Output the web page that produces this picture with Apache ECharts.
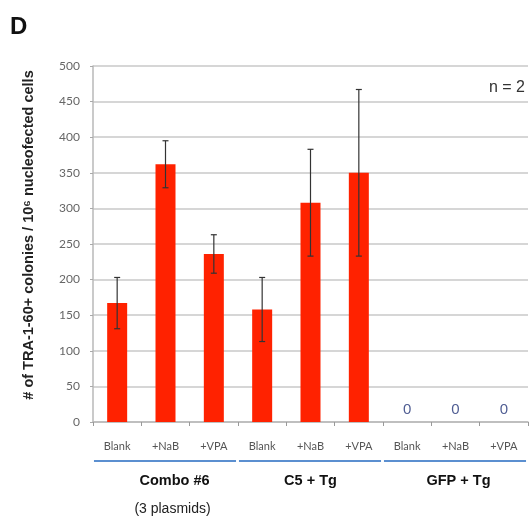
<!DOCTYPE html>
<html><head><meta charset="utf-8">
<script src="https://cdn.jsdelivr.net/npm/echarts@6/dist/echarts.min.js"></script>
<style>html,body{margin:0;padding:0;background:#fff}#c{width:529px;height:520px}</style>
</head><body><div id="c"></div>
<script>
const categories = ['Blank','+NaB','+VPA','Blank','+NaB','+VPA','Blank','+NaB','+VPA'];
const values = [167, 362, 236, 158, 308, 350, 0, 0, 0];
const errors = [36, 33, 27, 45, 75, 117, 0, 0, 0];
const groups = ['Combo #6', 'C5 + Tg', 'GFP + Tg'];
const groupSub = ['(3 plasmids)', '', ''];
const yTicks = [0, 50, 100, 150, 200, 250, 300, 350, 400, 450, 500];

const chart = echarts.init(document.getElementById('c'), null, {renderer: 'canvas'});
const errData = values.map((v, i) => [i, v - errors[i], v + errors[i]]).filter((d, i) => errors[i] > 0);
const zeroLabels = values.map((v, i) => v === 0 ? [i, v] : null).filter(Boolean);

const option = {
  animation: false,
  grid: {left: 93, right: 1, top: 66, bottom: 98},
  xAxis: {
    type: 'category', data: categories,
    axisLine: {lineStyle: {color: '#b8b8b8', width: 1.5}},
    axisTick: {show: true, length: 4, lineStyle: {color: '#999'}},
    axisLabel: {color: '#555', fontSize: 11, fontFamily: 'Lato', margin: 19}
  },
  yAxis: {
    type: 'value', min: yTicks[0], max: yTicks[yTicks.length - 1], interval: 50,
    name: '# of TRA-1-60+ colonies / 10\u2076 nucleofected cells',
    nameLocation: 'middle', nameGap: 57, nameRotate: 90,
    nameTextStyle: {fontSize: 14.5, fontWeight: 'bold', color: '#222', fontFamily: 'Liberation Sans',
                    padding: [0, 0, 0, 18]},
    axisLine: {show: true, lineStyle: {color: '#b8b8b8', width: 1.5}},
    axisTick: {show: true, length: 3, lineStyle: {color: '#aaa'}},
    axisLabel: {color: '#666', fontSize: 12, fontFamily: 'Lato', margin: 13},
    splitLine: {lineStyle: {color: '#c8c8c8', width: 1.5}}
  },
  series: [
    {
      type: 'bar', data: values, barWidth: 20,
      itemStyle: {color: '#ff2200'}, z: 2
    },
    {
      type: 'custom', z: 3,
      renderItem: function (params, api) {
        const x = api.coord([api.value(0), 0])[0];
        const lo = api.coord([api.value(0), api.value(1)])[1];
        const hi = api.coord([api.value(0), api.value(2)])[1];
        const hw = 3;
        const st = {stroke: '#333', lineWidth: 1.2};
        return {type: 'group', children: [
          {type: 'line', shape: {x1: x, y1: lo, x2: x, y2: hi}, style: st},
          {type: 'line', shape: {x1: x - hw, y1: lo, x2: x + hw, y2: lo}, style: st},
          {type: 'line', shape: {x1: x - hw, y1: hi, x2: x + hw, y2: hi}, style: st}
        ]};
      },
      encode: {x: 0, y: [1, 2]},
      data: errData
    },
    {
      type: 'scatter', data: zeroLabels, symbolSize: 0, z: 4,
      label: {show: true, position: 'top', distance: 5, formatter: '0', color: '#223377', fontSize: 15, fontFamily: 'Liberation Sans'}
    }
  ]
};
chart.setOption(option);

const g = [];
groups.forEach((name, k) => {
  const xl = chart.convertToPixel({xAxisIndex: 0}, k * 3) - 24.2;
  const xr = chart.convertToPixel({xAxisIndex: 0}, k * 3 + 2) + 24.2;
  const y0 = chart.convertToPixel({yAxisIndex: 0}, 0);
  g.push({type: 'line', shape: {x1: xl + 1, y1: y0 + 39, x2: xr - 2, y2: y0 + 39},
          style: {stroke: '#5b8fd0', lineWidth: 2}});
  const cx = (xl + xr) / 2 + (k === 2 ? 3 : 0);
  g.push({type: 'text', x: cx + (k === 0 ? 9 : 0), y: y0 + 59,
          style: {text: name, font: 'bold 14.5px "Liberation Sans"', fill: '#111', align: 'center', verticalAlign: 'middle'}});
  if (groupSub[k]) {
    g.push({type: 'text', x: cx + 7, y: y0 + 87,
            style: {text: groupSub[k], font: '14px "Liberation Sans"', fill: '#222', align: 'center', verticalAlign: 'middle'}});
  }
});
g.push({type: 'text', left: 10, top: 15, style: {text: 'D', font: 'bold 24px "Liberation Sans"', fill: '#111'}});
g.push({type: 'text', right: 4, top: 80, style: {text: 'n = 2', font: '16px "Liberation Sans"', fill: '#333'}});
chart.setOption({graphic: g});
</script>
</body></html>
